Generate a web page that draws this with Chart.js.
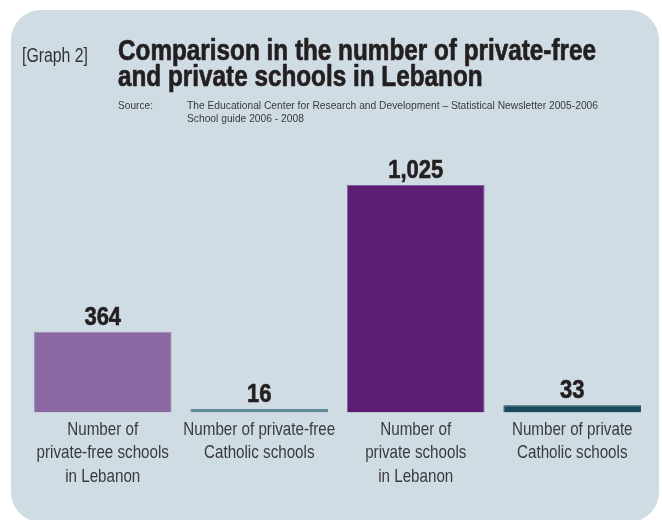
<!DOCTYPE html>
<html>
<head>
<meta charset="utf-8">
<script src="https://cdn.jsdelivr.net/npm/chart.js@4/dist/chart.umd.min.js"></script>
<style>
  html, body { margin: 0; padding: 0; background: #ffffff; }
  body { width: 662px; height: 520px; position: relative; overflow: hidden; }
  .panel {
    position: absolute; left: 11px; top: 10px; width: 648px; height: 512px;
    background: #cfdce4; border-radius: 30px;
  }
  #chart { position: absolute; left: 0; top: 0; }
</style>
</head>
<body>
<div class="panel"></div>
<canvas id="chart" width="662" height="520"></canvas>
<script>
const categories = [
  ['Number of', 'private-free schools', 'in Lebanon'],
  ['Number of private-free', 'Catholic schools'],
  ['Number of', 'private schools', 'in Lebanon'],
  ['Number of private', 'Catholic schools'],
];
const schoolCounts = [364, 16, 1025, 33];
const barColors = ['#8b68a2', '#5f8999', '#5c1e74', '#1b4a5a'];
const barEdges = ['#a08ab3', '#5f8999', '#8460a0', '#1b4a5a'];

const graphTag = '[Graph 2]';
const titleLines = ['Comparison in the number of private-free', 'and private schools in Lebanon'];
const sourceLabel = 'Source:';
const sourceLines = [
  'The Educational Center for Research and Development – Statistical Newsletter 2005-2006',
  'School guide 2006 - 2008',
];

const FONT = '"Liberation Sans", Arial, sans-serif';

// horizontally squeezed text, standing in for a condensed face;
// heavy > 0 adds a thin outline to thicken bold strokes
function squeezed(ctx, text, x, y, font, sx, align, heavy) {
  ctx.save();
  ctx.font = font;
  ctx.textAlign = align || 'left';
  ctx.textBaseline = 'alphabetic';
  ctx.translate(x, y);
  ctx.scale(sx, 1);
  ctx.fillText(text, 0, 0);
  if (heavy) {
    ctx.strokeStyle = ctx.fillStyle;
    ctx.lineWidth = heavy;
    ctx.lineJoin = 'round';
    ctx.strokeText(text, 0, 0);
  }
  ctx.restore();
}

function fitScale(ctx, text, font, width) {
  ctx.save();
  ctx.font = font;
  const w = ctx.measureText(text).width;
  ctx.restore();
  return width / w;
}

const header = {
  id: 'header',
  afterDraw(chart) {
    const { ctx } = chart;
    ctx.save();
    ctx.fillStyle = '#333333';
    const tagFont = '20px ' + FONT;
    squeezed(ctx, graphTag, 22, 62, tagFont, fitScale(ctx, graphTag, tagFont, 66));

    ctx.fillStyle = '#231f20';
    const titleFont = 'bold 29px ' + FONT;
    const ts = fitScale(ctx, titleLines[0], titleFont, 478);
    squeezed(ctx, titleLines[0], 118, 60, titleFont, ts, 'left', 0.7);
    squeezed(ctx, titleLines[1], 118, 85.5, titleFont, ts, 'left', 0.7);

    ctx.fillStyle = '#3a3a3a';
    const srcFont = '10px ' + FONT;
    squeezed(ctx, sourceLabel, 118, 109, srcFont, fitScale(ctx, sourceLabel, srcFont, 35));
    const ss = fitScale(ctx, sourceLines[0], srcFont, 411);
    squeezed(ctx, sourceLines[0], 187, 109, srcFont, ss);
    squeezed(ctx, sourceLines[1], 187, 122, srcFont, ss);
    ctx.restore();
  },
};

// category names under the bars and values above them
const barText = {
  id: 'barText',
  afterDatasetsDraw(chart) {
    const { ctx, chartArea } = chart;
    const xScale = chart.scales.x;
    const meta = chart.getDatasetMeta(0);
    ctx.save();
    ctx.fillStyle = '#231f20';
    meta.data.forEach((bar, i) => {
      squeezed(ctx, schoolCounts[i].toLocaleString('en-US'), bar.x, bar.y - 7,
        'bold 25px ' + FONT, 0.88, 'center', 0.6);
    });
    ctx.fillStyle = '#3a3a3a';
    categories.forEach((lines, i) => {
      const x = xScale.getPixelForValue(i);
      lines.forEach((line, j) => {
        squeezed(ctx, line, x, chartArea.bottom + 22.5 + j * 23.3, '18.5px ' + FONT, 0.82, 'center');
      });
    });
    ctx.restore();
  },
};

new Chart(document.getElementById('chart'), {
  type: 'bar',
  data: {
    labels: categories,
    datasets: [
      {
        data: schoolCounts,
        backgroundColor: barColors,
        borderColor: barEdges,
        borderWidth: 1,
        barPercentage: 0.88,
        categoryPercentage: 1,
      },
    ],
  },
  options: {
    responsive: false,
    animation: false,
    layout: { padding: { left: 24.5, right: 11.5, top: 185, bottom: 107.5 } },
    plugins: {
      legend: { display: false },
      tooltip: { enabled: false },
    },
    scales: {
      x: { display: false },
      y: { display: false, min: 0, max: 1025 },
    },
  },
  plugins: [barText, header],
});
</script>
</body>
</html>
